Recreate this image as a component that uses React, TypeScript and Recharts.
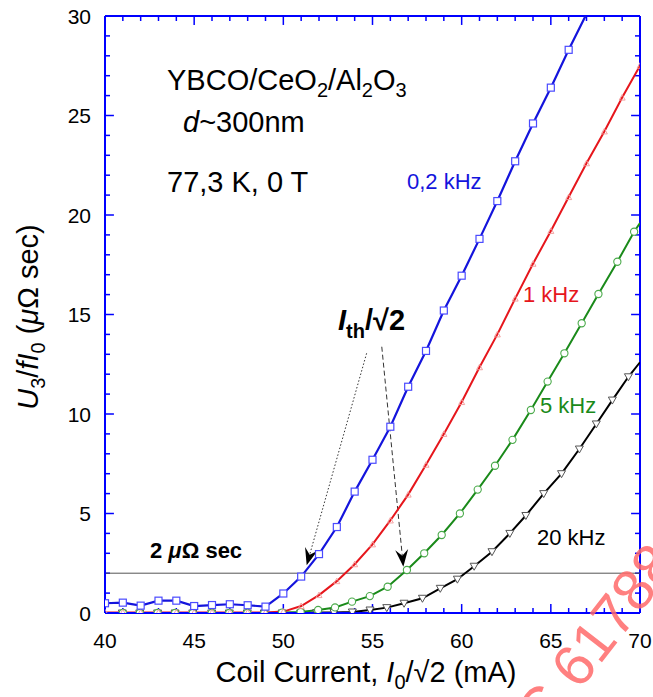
import { LineChart, Line, XAxis, YAxis, ReferenceLine } from 'recharts'

const FONT = '"Liberation Sans", Arial, Helvetica, sans-serif'
const AXIS = '#0000ff'
const BLUE = '#1414dc'
const RED = '#e6161c'
const GREEN = '#1a8a1a'
const BLACK = '#000000'

const X_TICKS = [40, 41, 42, 43, 44, 45, 46, 47, 48, 49, 50, 51, 52, 53, 54, 55, 56, 57, 58, 59, 60, 61, 62, 63, 64, 65, 66, 67, 68, 69, 70]
const Y_TICKS = [0, 1, 2, 3, 4, 5, 6, 7, 8, 9, 10, 11, 12, 13, 14, 15, 16, 17, 18, 19, 20, 21, 22, 23, 24, 25, 26, 27, 28, 29, 30]

// 0,2 kHz
const blueX = [40, 41, 42, 43, 44, 45, 46, 47, 48, 49, 50, 51, 52, 53, 54, 55, 56, 57, 58, 59, 60, 61, 62, 63, 64, 65, 66, 67]
const blueY = [0.49, 0.52, 0.37, 0.62, 0.62, 0.35, 0.4, 0.44, 0.39, 0.32, 0.98, 1.83, 2.96, 4.32, 6.1, 7.7, 9.36, 11.37, 13.17, 15.2, 16.95, 18.8, 20.7, 22.7, 24.6, 26.4, 28.3, 30.1]

// 1 kHz
const redX = [40, 41, 42, 43, 44, 45, 46, 47, 48, 49, 50, 51, 52, 53, 54, 55, 56, 57, 58, 59, 60, 61, 62, 63, 64, 65, 66, 67, 68, 69, 70]
const redY = [0.03, 0.03, 0.03, 0.03, 0.03, 0.03, 0.03, 0.03, 0.03, 0.03, 0.07, 0.35, 0.9, 1.6, 2.45, 3.45, 4.65, 5.95, 7.45, 9.0, 10.6, 12.35, 14.0, 15.8, 17.55, 19.2, 20.9, 22.6, 24.2, 25.9, 27.5]

// 5 kHz
const greenX = [41, 41.95, 42.95, 43.93, 44.92, 45.98, 46.97, 47.98, 48.93, 49.93, 50.97, 51.95, 52.9, 53.85, 54.85, 55.85, 56.93, 57.9, 58.88, 59.9, 60.9, 61.87, 62.85, 63.88, 64.82, 65.76, 66.73, 67.67, 68.73, 69.67, 70]
const greenY = [0, 0, 0, 0, 0, 0, 0, 0, 0, 0.02, 0.05, 0.15, 0.28, 0.57, 0.85, 1.32, 2.16, 3.0, 3.92, 5.0, 6.2, 7.4, 8.7, 10.2, 11.63, 13.05, 14.56, 16.03, 17.65, 19.16, 19.6]

// 20 kHz
const blackX = [40.97, 41.95, 42.95, 43.93, 44.92, 45.98, 46.97, 47.98, 48.93, 49.93, 50.97, 51.87, 52.84, 53.87, 54.86, 55.8, 56.77, 57.8, 58.8, 59.76, 60.7, 61.7, 62.7, 63.6, 64.6, 65.6, 66.6, 67.55, 68.45, 69.35, 70]
const blackY = [0, 0, 0, 0, 0, 0, 0, 0, 0, 0, 0, 0.02, 0.02, 0.05, 0.15, 0.27, 0.49, 0.74, 1.24, 1.7, 2.35, 3.08, 4.0, 4.9, 6.0, 7.0, 8.24, 9.5, 10.7, 11.87, 12.6]

const toPts = (xs: number[], ys: number[]) => xs.map((x, i) => ({ x, y: ys[i] }))
const blue = toPts(blueX, blueY)
const red = toPts(redX, redY)
const green = toPts(greenX, greenY)
const black = toPts(blackX, blackY)

const major = (v: number) => v % 5 === 0
// inward tick lengths, in axis units (~9px major, ~5px minor)
const lenX = (v: number) => (major(v) ? 0.5 : 0.28)
const lenY = (v: number) => (major(v) ? 0.45 : 0.25)

const BottomLabel = (p: any) => {
  const v = p.payload.value
  return major(v) ? (
    <text x={p.x} y={p.y + 35} textAnchor="middle" fontSize={21} fontFamily={FONT} fill="#000">{v}</text>
  ) : <g />
}
const LeftLabel = (p: any) => {
  const v = p.payload.value
  return major(v) ? (
    <text x={p.x - 14} y={p.y + 7.5} textAnchor="end" fontSize={21} fontFamily={FONT} fill="#000">{v}</text>
  ) : <g />
}

const hidden = (p: any) => p.cx == null || p.cy == null || p.payload.y > 30 || p.payload.x >= 70

const SquareDot = (p: any) =>
  hidden(p) ? <g key={p.index} /> : (
    <rect key={p.index} x={p.cx - 3.5} y={p.cy - 3.5} width={7} height={7} fill="#fff" stroke="#4a4aff" strokeWidth={1.2} />
  )
const CircleDot = (p: any) =>
  hidden(p) ? <g key={p.index} /> : (
    <circle key={p.index} cx={p.cx} cy={p.cy} r={3.6} fill="#fff" stroke="#4aaa4a" strokeWidth={1.1} />
  )
const DownTri = (p: any) =>
  hidden(p) ? <g key={p.index} /> : (
    <polygon key={p.index} points={`${p.cx - 4},${p.cy - 3} ${p.cx + 4},${p.cy - 3} ${p.cx},${p.cy + 4}`} fill="#fff" stroke="#555" strokeWidth={1} />
  )
const UpTri = (p: any) =>
  p.cx == null ? <g key={p.index} /> : (
    <polygon key={p.index} points={`${p.cx - 3},${p.cy + 2.5} ${p.cx + 3},${p.cy + 2.5} ${p.cx},${p.cy - 3}`} fill="none" stroke="#f29a9a" strokeWidth={0.9} />
  )

const arrow = (dash: string) => (p: any) => {
  const { x1, y1, x2, y2 } = p
  const dx = x2 - x1
  const dy = y2 - y1
  const L = Math.hypot(dx, dy) || 1
  const ux = dx / L
  const uy = dy / L
  const nx = -uy
  const ny = ux
  const head = 17
  const half = 6.5
  const notch = 11
  const bx = x2 - ux * head
  const by = y2 - uy * head
  const pts = [
    [x2, y2],
    [bx + nx * half, by + ny * half],
    [x2 - ux * notch, y2 - uy * notch],
    [bx - nx * half, by - ny * half],
  ]
  return (
    <g>
      <path d={`M${x1},${y1}L${x2 - ux * notch},${y2 - uy * notch}`} stroke="#333" strokeWidth={1} strokeDasharray={dash} fill="none" />
      <polygon points={pts.map((q) => q.join(',')).join(' ')} fill="#000" />
    </g>
  )
}

const txt = { fontFamily: FONT, fill: '#000' }
const tickStyle = { stroke: AXIS, strokeWidth: 1.5 }

export default function App() {
  return (
    <div style={{ position: 'absolute', left: 0, top: 0, width: 653, height: 697, background: '#fff' }}>
      <LineChart width={653} height={697} margin={{ top: 16, right: 13, bottom: 0, left: 0 }}>
        <XAxis dataKey="x" type="number" domain={[40, 70]} ticks={X_TICKS} interval={0}
          allowDataOverflow height={84} tickSize={0} tickMargin={0} tickLine={false}
          axisLine={{ stroke: AXIS, strokeWidth: 2 }} tick={BottomLabel} />
        <YAxis type="number" domain={[0, 30]} ticks={Y_TICKS} interval={0} allowDataOverflow
          width={105} tickSize={0} tickMargin={0} tickLine={false}
          axisLine={{ stroke: AXIS, strokeWidth: 2 }} tick={LeftLabel} />

        {/* frame: top and right */}
        <ReferenceLine y={30} stroke={AXIS} strokeWidth={2} />
        <ReferenceLine x={70} stroke={AXIS} strokeWidth={2} />

        {/* inward ticks on all four sides */}
        {X_TICKS.map((v) => (
          <ReferenceLine key={`b${v}`} segment={[{ x: v, y: 0 }, { x: v, y: lenY(v) }]} {...tickStyle} />
        ))}
        {X_TICKS.map((v) => (
          <ReferenceLine key={`t${v}`} segment={[{ x: v, y: 30 }, { x: v, y: 30 - lenY(v) }]} {...tickStyle} />
        ))}
        {Y_TICKS.map((v) => (
          <ReferenceLine key={`l${v}`} segment={[{ x: 40, y: v }, { x: 40 + lenX(v), y: v }]} {...tickStyle} />
        ))}
        {Y_TICKS.map((v) => (
          <ReferenceLine key={`r${v}`} segment={[{ x: 70, y: v }, { x: 70 - lenX(v), y: v }]} {...tickStyle} />
        ))}

        <ReferenceLine y={2} stroke="#555" strokeWidth={1} />
        <ReferenceLine segment={[{ x: 54.67, y: 13.05 }, { x: 51.31, y: 2.4 }]} shape={arrow('1.5 2')} />
        <ReferenceLine segment={[{ x: 55.52, y: 13.38 }, { x: 56.73, y: 2.33 }]} shape={arrow('5 3')} />

        <Line data={black} dataKey="y" type="linear" stroke={BLACK} strokeWidth={2} dot={DownTri} isAnimationActive={false} />
        <Line data={green} dataKey="y" type="linear" stroke={GREEN} strokeWidth={2} dot={CircleDot} isAnimationActive={false} />
        <Line data={red} dataKey="y" type="linear" stroke={RED} strokeWidth={2} dot={UpTri} isAnimationActive={false} />
        <Line data={blue} dataKey="y" type="linear" stroke={BLUE} strokeWidth={2.2} dot={SquareDot} isAnimationActive={false} />
      </LineChart>

      <svg width={653} height={697} style={{ position: 'absolute', left: 0, top: 0, pointerEvents: 'none' }}>
        <text x={38} y={317} transform="rotate(-90 38 317)" textAnchor="middle" fontSize={29} {...txt}>
          <tspan fontStyle="italic">U</tspan>
          <tspan fontSize={20} dy={7}>3</tspan>
          <tspan dy={-7}>/</tspan>
          <tspan fontStyle="italic">fI</tspan>
          <tspan fontSize={20} dy={7}>0</tspan>
          <tspan dy={-7}> (</tspan>
          <tspan fontStyle="italic">μ</tspan>
          <tspan>Ω sec)</tspan>
        </text>
        <text x={366} y={682} textAnchor="middle" fontSize={29} {...txt}>
          <tspan>Coil Current, </tspan>
          <tspan fontStyle="italic">I</tspan>
          <tspan fontSize={20} dy={7}>0</tspan>
          <tspan dy={-7}>/√2 (mA)</tspan>
        </text>

        <text x={167} y={90} fontSize={29} {...txt}>
          <tspan>YBCO/CeO</tspan>
          <tspan fontSize={20} dy={7}>2</tspan>
          <tspan dy={-7}>/Al</tspan>
          <tspan fontSize={20} dy={7}>2</tspan>
          <tspan dy={-7}>O</tspan>
          <tspan fontSize={20} dy={7}>3</tspan>
        </text>
        <text x={183} y={132} fontSize={29} {...txt}>
          <tspan fontStyle="italic">d</tspan>
          <tspan>~300nm</tspan>
        </text>
        <text x={167} y={192} fontSize={29} {...txt}>77,3 K, 0 T</text>

        <text x={407} y={189} fontSize={22} fontFamily={FONT} fill={BLUE}>0,2 kHz</text>
        <text x={523} y={302} fontSize={22} fontFamily={FONT} fill={RED}>1 kHz</text>
        <text x={540} y={413} fontSize={22} fontFamily={FONT} fill={GREEN}>5 kHz</text>
        <text x={537} y={545} fontSize={22} {...txt}>20 kHz</text>

        <text x={150} y={558} fontSize={22} fontWeight="bold" {...txt}>
          <tspan>2 </tspan>
          <tspan fontStyle="italic">μ</tspan>
          <tspan>Ω sec</tspan>
        </text>
        <text x={338} y={330} fontSize={29} fontWeight="bold" {...txt}>
          <tspan fontStyle="italic">I</tspan>
          <tspan fontSize={20} dy={8}>th</tspan>
          <tspan dy={-8}>/√2</tspan>
        </text>

        <text x={510} y={780} transform="rotate(-52 510 780)" fontSize={58} fontFamily={FONT} fill="#ff6a6a" opacity={0.85}>
          IEC 61788
        </text>
      </svg>
    </div>
  )
}
